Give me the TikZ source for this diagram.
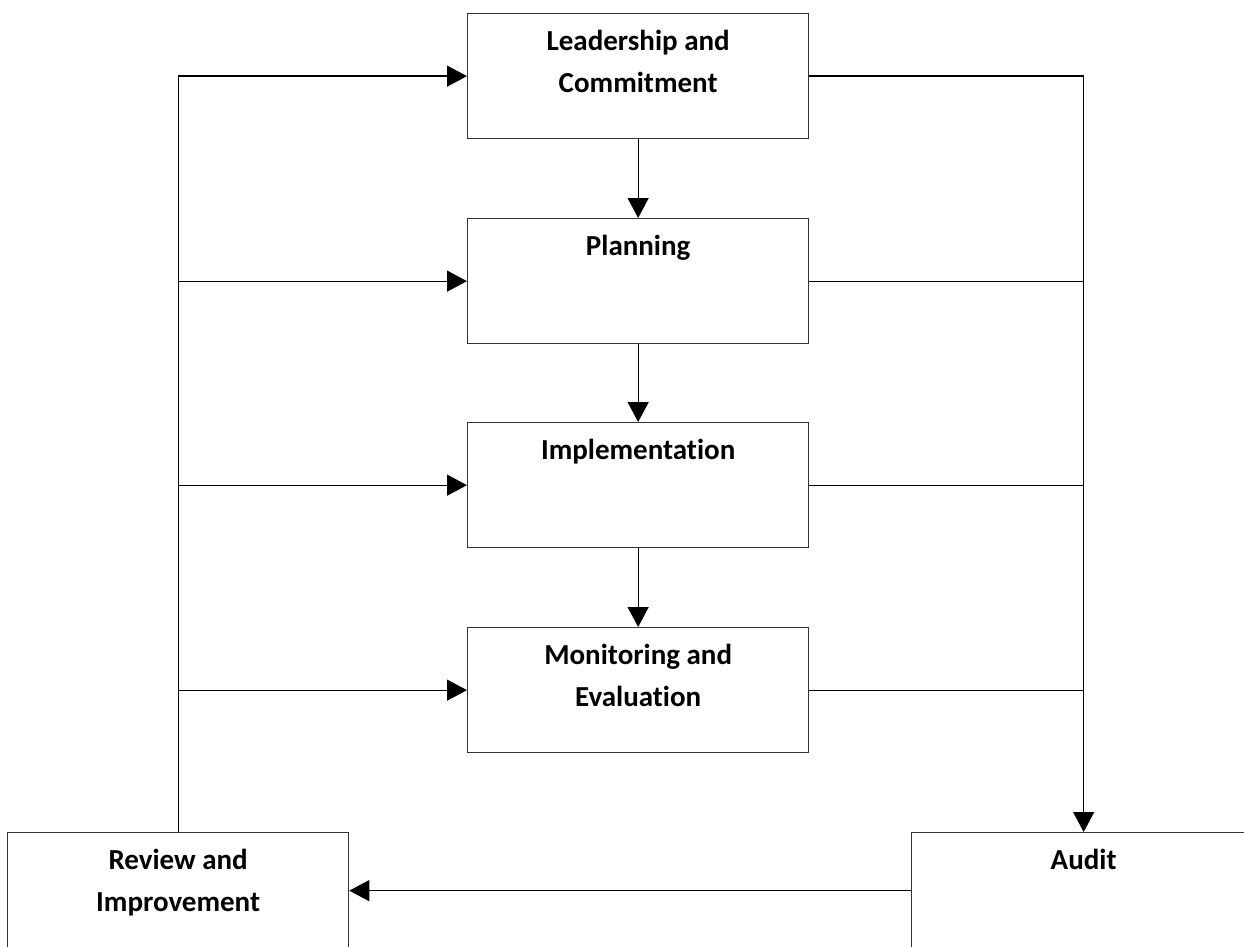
\documentclass[tikz,border=0pt]{standalone}
\usepackage{fontspec}
\setmainfont[Ligatures={NoCommon}]{Carlito}
\usetikzlibrary{arrows.meta}
\begin{document}
\begin{tikzpicture}[x=1pt,y=-1pt,
  box/.style={draw=black!80, line width=1.3pt, rectangle, inner sep=0pt, anchor=north west, minimum width=341pt},
  midbox/.style={box, minimum height=125pt},
  endbox/.style={box, minimum height=116pt},
  lbl/.style={anchor=north, inner sep=0pt, align=center, font=\fontsize{29}{41.5}\selectfont\bfseries},
  conn/.style={draw=black, line width=1.3pt},
  arr/.style={conn, -{Triangle[length=20pt,width=21pt]}}
]
\useasboundingbox (0,0) rectangle (1244,947);
% boxes
\node[midbox] (lead) at (467,13) {};
\node[midbox] (plan) at (467,218) {};
\node[midbox] (impl) at (467,422) {};
\node[midbox] (mon) at (467,627) {};
\node[endbox] (rev) at (7,832) {};
\node[endbox, minimum width=344pt] (aud) at (911,832) {};
% texts
\node[lbl] (leadT) at ([yshift=-17pt]lead.north) {Leadership and\\Commitment};
\node[lbl] (planT) at ([yshift=-17pt]plan.north) {Planning};
\node[lbl] (implT) at ([yshift=-17pt]impl.north) {Implementation};
\node[lbl] (monT) at ([yshift=-17pt]mon.north) {Monitoring and\\Evaluation};
\node[lbl] (revT) at ([yshift=-17pt]rev.north) {Review and\\Improvement};
\node[lbl] (audT) at ([yshift=-17pt]aud.north) {Audit};
% vertical chain
\draw[arr] (lead.south) -- (plan.north);
\draw[arr] (plan.south) -- (impl.north);
\draw[arr] (impl.south) -- (mon.north);
% left feedback
\draw[arr] (rev.north) |- (lead.west);
\draw[arr] (rev.north |- plan.west) -- (plan.west);
\draw[arr] (rev.north |- impl.west) -- (impl.west);
\draw[arr] (rev.north |- mon.west) -- (mon.west);
% right to audit
\draw[arr] (lead.east) -| (aud.north);
\draw[conn] (plan.east) -- (plan.east -| aud.north);
\draw[conn] (impl.east) -- (impl.east -| aud.north);
\draw[conn] (mon.east) -- (mon.east -| aud.north);
% audit to review
\draw[arr] (aud.west) -- (rev.east);
\end{tikzpicture}
\end{document}
